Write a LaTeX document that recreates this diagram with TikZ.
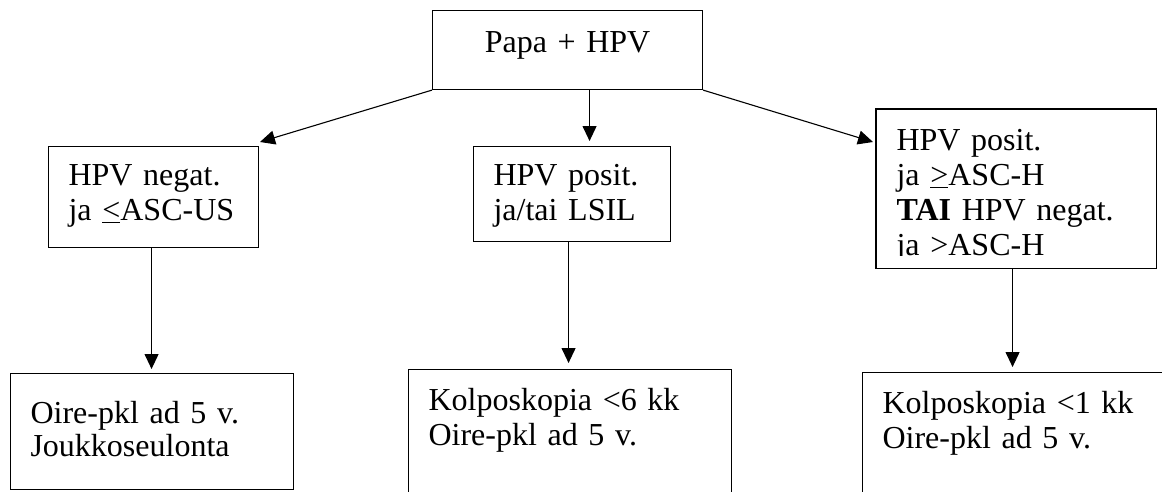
\documentclass[tikz,border=0pt]{standalone}
\usepackage{fontspec}
\setmainfont{Liberation Serif}
\usetikzlibrary{arrows.meta}
\begin{document}
\begin{tikzpicture}[x=1pt,y=-1pt,
  box/.style={draw, line width=1.1pt, inner ysep=0pt, inner xsep=20pt, align=left, anchor=north west, font=\fontsize{32}{35}\selectfont},
  arr/.style={line width=1.1pt, -{Triangle[length=15pt,width=14pt]}}]
\useasboundingbox (0,0) rectangle (1162,491);
% top
\node[box, align=center, inner xsep=0pt, text width=270pt, text height=42pt, text depth=37pt] (top) at (432,10) {Papa + HPV};
% middle row
\node[box, text width=170pt, text height=39pt, text depth=62pt] (left) at (48,146) {HPV negat.\\ja \underline{<}ASC-US};
\node[box, text width=157pt, text height=39pt, text depth=56pt] (mid) at (473,146) {HPV posit.\\ja/tai LSIL};
\begin{scope}
\clip (870,100) rectangle (1160,255.3);
\node[box, draw=none, text width=239pt, text height=41pt, text depth=117pt] (right) at (876,109) {HPV posit.\\ja \underline{>}ASC-H\\\textbf{TAI} HPV negat.\\ja \underline{>}ASC-H};
\end{scope}
\draw[line width=1.1pt] (right.north west) rectangle (right.south east);
% bottom row
\node[box, font=\fontsize{32}{33}\selectfont, text width=243pt, text height=50pt, text depth=66pt] (bl) at (10,373) {Oire-pkl ad 5 v.\\Joukkoseulonta};
\node[box, text width=283pt, text height=41pt, text depth=90pt] (bm) at (408,369) {Kolposkopia <6 kk\\Oire-pkl ad 5 v.};
\node[box, text width=280pt, text height=41pt, text depth=90pt] (br) at (862,372) {Kolposkopia <1 kk\\Oire-pkl ad 5 v.};
% connectors
\coordinate (lt) at (260,142);
\coordinate (rt) at (873,142);
\draw[arr] (top.south west) -- (lt);
\draw[arr] (top.south east) -- (rt);
\draw[arr, shorten >=5pt] ([xshift=22pt]top.south) -- ([xshift=22pt]top.south |- mid.north);
\draw[arr, shorten >=4pt] ([xshift=-2pt]left.south) -- ([xshift=-2pt]left.south |- bl.north);
\draw[arr, shorten >=6pt] ([xshift=-3.5pt]mid.south) -- ([xshift=-3.5pt]mid.south |- bm.north);
\draw[arr, shorten >=5pt] ([xshift=-3.5pt]right.south) -- ([xshift=-3.5pt]right.south |- br.north);
\end{tikzpicture}
\end{document}
